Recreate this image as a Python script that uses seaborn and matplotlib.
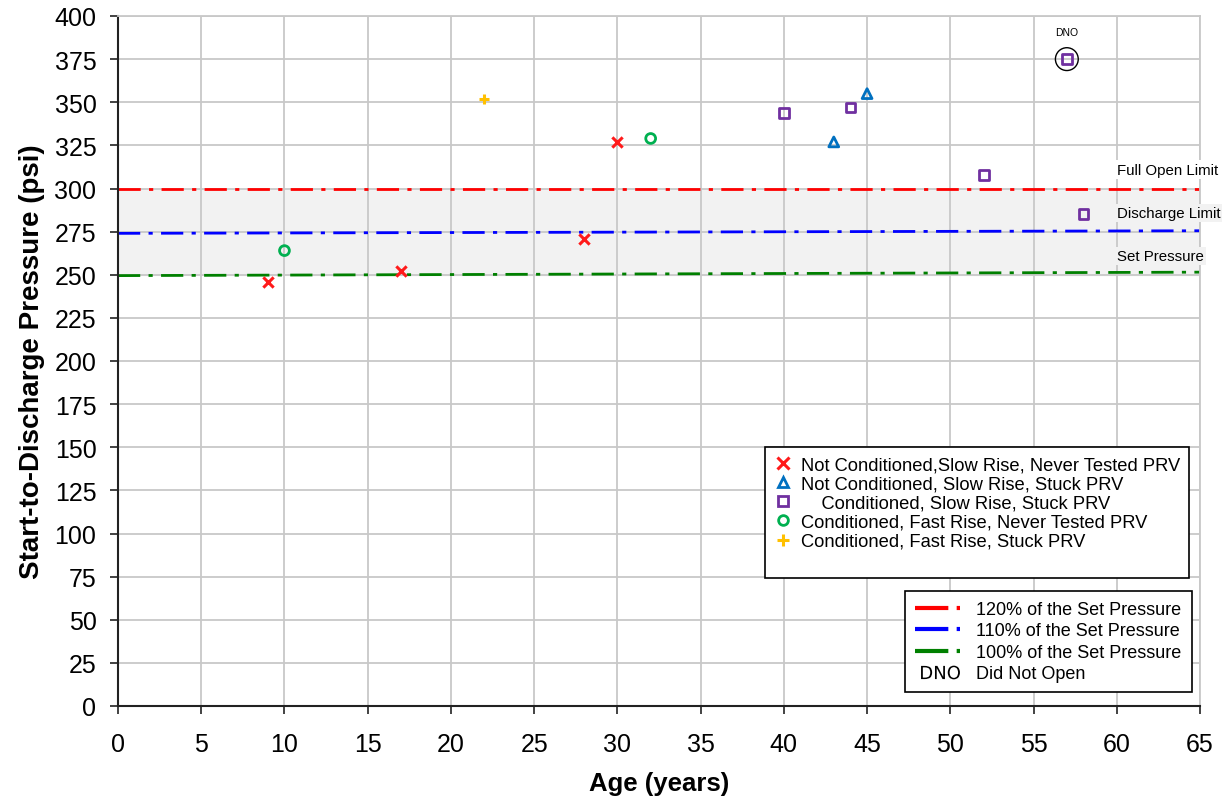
import numpy as np
import pandas as pd
import matplotlib
matplotlib.use("Agg")
import matplotlib.pyplot as plt
from matplotlib.lines import Line2D
import seaborn as sns

# ----- data -----
categories = [
    "Not Conditioned,Slow Rise, Never Tested PRV",
    "Not Conditioned, Slow Rise, Stuck PRV",
    "    Conditioned, Slow Rise, Stuck PRV",
    "Conditioned, Fast Rise, Never Tested PRV",
    "Conditioned, Fast Rise, Stuck PRV",
]
ages = [
    [9, 17, 28, 30],
    [43, 45],
    [40, 44, 52, 57, 58],
    [10, 32],
    [22],
]
pressures = [
    [246, 252, 271, 327],
    [327, 355],
    [344, 347, 308, 375, 285],
    [264, 329],
    [352],
]
dno_age = 57
dno_pressure = 375

line_labels = ["120% of the Set Pressure", "110% of the Set Pressure", "100% of the Set Pressure"]
line_x = [0, 65]
line_y = [[300, 300], [274, 275.5], [249.5, 251.5]]
band = [250, 300]
limit_labels = ["Full Open Limit", "Discharge Limit", "Set Pressure"]
limit_y = [311, 286, 261]
# -----------------------------------

colors = ["#ff1a1a", "#0070c0", "#7030a0", "#00b050", "#ffc000"]
markers = ["x", "^", "s", "o", "+"]
line_colors = ["#ff0000", "#0000ff", "#008000"]

sns.set_theme(style="whitegrid")
plt.rcParams["font.family"] = ["Liberation Sans", "DejaVu Sans"]
plt.rcParams["text.color"] = "black"
plt.rcParams["axes.labelcolor"] = "black"
plt.rcParams["xtick.color"] = "black"
plt.rcParams["ytick.color"] = "black"

fig = plt.figure(figsize=(12.3, 8.03), dpi=100)
ax = fig.add_axes([118 / 1230, 1 - 707 / 803, 1082 / 1230, 690 / 803])

ax.fill_between(line_x, band[0], band[1], color="#f2f2f2", zorder=0.5)

dash = (8, 3, 1.5, 3)
for ys, c in zip(line_y, line_colors):
    sns.lineplot(x=line_x, y=ys, ax=ax, color=c, lw=2, dashes=False, zorder=2)
    ax.lines[-1].set_dashes(dash)

for cat, xs, ys, c, m in zip(categories, ages, pressures, colors, markers):
    df = pd.DataFrame({"age": xs, "pressure": ys})
    if m in ("x", "+"):
        sns.scatterplot(data=df, x="age", y="pressure", ax=ax, marker=m,
                        color=c, s=55, linewidth=2.2, zorder=4)
    else:
        sns.scatterplot(data=df, x="age", y="pressure", ax=ax, marker=m,
                        color=c, facecolor="none", edgecolor=c, s=50,
                        linewidth=2, zorder=4)

# DNO ring and label
ax.scatter([dno_age], [dno_pressure], s=270, facecolor="none",
           edgecolor="black", linewidth=1, zorder=5)
ax.text(dno_age, 391, "DNO", fontsize=7.5, ha="center", va="center")

bgs = ["white", "#f2f2f2", "#f2f2f2"]
for lab, y, bg in zip(limit_labels, limit_y, bgs):
    ax.text(60.0, y, lab, fontsize=10.8, ha="left", va="center", clip_on=False,
            bbox=dict(facecolor=bg, edgecolor="none", pad=1.5), zorder=3)

ax.set_xlim(0, 65)
ax.set_ylim(0, 400)
ax.set_xticks(np.arange(0, 66, 5))
ax.set_yticks(np.arange(0, 401, 25))
ax.grid(True, color="#c8c8c8", lw=1.3)
ax.set_axisbelow(True)
ax.tick_params(axis="both", direction="out", length=5.5, width=1.2,
               color="#222222", labelsize=18, left=True, bottom=True)
ax.tick_params(axis="x", pad=13)
ax.tick_params(axis="y", pad=10)
for side in ["left", "bottom"]:
    ax.spines[side].set_color("#222222")
    ax.spines[side].set_linewidth(1.5)
for side in ["top", "right"]:
    ax.spines[side].set_color("#c8c8c8")
    ax.spines[side].set_linewidth(1.3)

ax.set_xlabel("Age (years)", fontsize=18.5, fontweight="bold", labelpad=11)
ax.set_ylabel("Start-to-Discharge Pressure (psi)", fontsize=20, fontweight="bold", labelpad=7)

# legend 1: markers
h1 = []
for c, m in zip(colors, markers):
    if m in ("x", "+"):
        h1.append(Line2D([], [], ls="none", marker=m, color=c, ms=8, mew=2.2))
    else:
        h1.append(Line2D([], [], ls="none", marker=m, color=c, mfc="none", mec=c, ms=7, mew=2))
h1.append(Line2D([], [], ls="none"))
leg1 = ax.legend(h1, categories + [""], loc="upper left",
                 bbox_to_anchor=((765 - 118) / 1082, 1 - (448 - 17) / 690),
                 fontsize=13.2, frameon=True, fancybox=False, edgecolor="black",
                 framealpha=1, handlelength=1, handletextpad=0.45, borderpad=0.5,
                 labelspacing=0.12, borderaxespad=0)
leg1.get_frame().set_linewidth(1.2)
ax.add_artist(leg1)

# legend 2: reference lines
h2 = []
for c in line_colors:
    h2.append(Line2D([], [], color=c, lw=3, dashes=(8, 2, 0.8, 2)))
h2.append(Line2D([], [], ls="none", marker=r"$\mathrm{DNO}$", color="black", ms=28, mew=0))
leg2 = ax.legend(h2, line_labels + ["Did Not Open"], loc="upper left",
                 bbox_to_anchor=((905 - 118) / 1082, 1 - (592 - 17) / 690),
                 fontsize=13, frameon=True, fancybox=False, edgecolor="black",
                 framealpha=1, handlelength=2.8, handletextpad=0.6, borderpad=0.55,
                 labelspacing=0.25, borderaxespad=0)
leg2.get_frame().set_linewidth(1.2)

fig.savefig("out.png", dpi=100)
